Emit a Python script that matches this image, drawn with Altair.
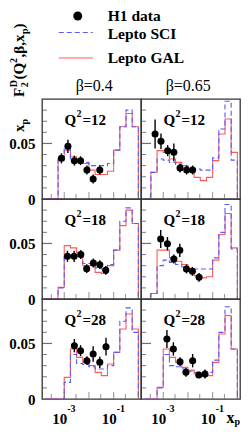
import altair as alt
import pandas as pd

FONT = "Liberation Serif"
RED = "#ff5a5a"
BLUE = "#5a5aff"
FRAME = "#333333"

# ---------------- data ----------------
legend_items = ["H1 data", "Lepto SCI", "Lepto GAL"]
beta_labels = ["β=0.4", "β=0.65"]
q2_values = ["12", "18", "28"]

# histogram bin edges, log10(x_p)
edge_exp = [-3.75, -3.5, -3.25, -3.0, -2.75, -2.5, -2.25, -2.0, -1.75,
            -1.5, -1.25, -1.0, -0.75, -0.5, -0.25, 0.0]

x_tick_major = [1e-3, 1e-2, 1e-1, 1.0]
x_tick_minor = [3e-4, 3e-3, 3e-2, 3e-1]
y_tick_minor = [0.01, 0.02, 0.03, 0.04, 0.06, 0.07, 0.08]
y_tick_major = [0.05]
x_label_values = [1e-3, 1e-1]
x_label_exps = ["-3", "-1"]

# Lepto GAL (red) per bin, keys (row, col)
gal = {
    (0, 0): [0, 0, 0.0364, 0.044, 0.038, 0.036, 0.032, 0.026, 0.022, 0.022, 0.025, 0.044, 0.065, 0.077, 0.065],
    (0, 1): [0, 0.024, 0.0435, 0.042, 0.036, 0.033, 0.030, 0.0255, 0.0195, 0.0165, 0.0195, 0.0345, 0.0585, 0.072, 0.042],
    (1, 0): [0, 0, 0.0105, 0.048, 0.046, 0.042, 0.030, 0.030, 0.024, 0.023, 0.030, 0.044, 0.066, 0.080, 0.068],
    (1, 1): [0, 0.005, 0.044, 0.044, 0.037, 0.034, 0.031, 0.027, 0.021, 0.019, 0.020, 0.035, 0.058, 0.077, 0.046],
    (2, 0): [0, 0, 0, 0.0195, 0.045, 0.0375, 0.033, 0.030, 0.024, 0.021, 0.0315, 0.042, 0.063, 0.0765, 0.063],
    (2, 1): [0, 0, 0.0105, 0.045, 0.0375, 0.033, 0.0285, 0.026, 0.0225, 0.021, 0.021, 0.033, 0.0585, 0.075, 0.045],
}
# Lepto SCI (blue dashed)
sci = {
    (0, 0): [0, 0, 0.035, 0.045, 0.036, 0.035, 0.033, 0.030, 0.030, 0.030, 0.032, 0.044, 0.065, 0.080, 0.065],
    (0, 1): [0, 0.024, 0.036, 0.035, 0.033, 0.031, 0.029, 0.027, 0.027, 0.026, 0.026, 0.037, 0.063, 0.088, 0.035],
    (1, 0): [0, 0, 0.010, 0.040, 0.040, 0.040, 0.032, 0.032, 0.028, 0.027, 0.031, 0.044, 0.070, 0.082, 0.068],
    (1, 1): [0, 0.005, 0.030, 0.035, 0.033, 0.031, 0.029, 0.027, 0.027, 0.027, 0.027, 0.037, 0.060, 0.085, 0.045],
    (2, 0): [0, 0, 0, 0.015, 0.040, 0.032, 0.031, 0.029, 0.027, 0.027, 0.030, 0.042, 0.070, 0.082, 0.060],
    (2, 1): [0, 0, 0.010, 0.040, 0.030, 0.029, 0.027, 0.025, 0.024, 0.024, 0.024, 0.035, 0.060, 0.083, 0.045],
}
# H1 data
h1_x = {
    (0, 0): [7.7e-4, 1.41e-3, 2.57e-3, 4.57e-3, 8.3e-3, 1.48e-2, 2.75e-2],
    (0, 1): [4.68e-4, 8.1e-4, 1.51e-3, 2.69e-3, 4.79e-3, 8.9e-3, 1.55e-2],
    (1, 0): [1.35e-3, 2.51e-3, 4.68e-3, 8.1e-3, 1.51e-2, 2.75e-2, 4.79e-2],
    (1, 1): [7.9e-4, 1.48e-3, 2.69e-3, 4.68e-3, 8.7e-3, 1.51e-2, 2.82e-2],
    (2, 0): [2.57e-3, 4.57e-3, 8.3e-3, 1.48e-2, 2.75e-2, 4.9e-2],
    (2, 1): [1.41e-3, 2.57e-3, 4.79e-3, 8.3e-3, 1.55e-2, 2.75e-2, 4.9e-2],
}
h1_y = {
    (0, 0): [0.0366, 0.0474, 0.0345, 0.0345, 0.0261, 0.018, 0.0261],
    (0, 1): [0.0585, 0.0519, 0.0435, 0.042, 0.0279, 0.0261, 0.0261],
    (1, 0): [0.0384, 0.0384, 0.040, 0.0273, 0.0324, 0.0309, 0.0258],
    (1, 1): [0.054, 0.0498, 0.036, 0.0438, 0.027, 0.0249, 0.0195],
    (2, 0): [0.048, 0.0435, 0.0345, 0.0405, 0.033, 0.0471],
    (2, 1): [0.054, 0.045, 0.0336, 0.024, 0.0345, 0.0216, 0.0225],
}
h1_err = {
    (0, 0): [0.0045, 0.006, 0.0045, 0.004, 0.004, 0.004, 0.004],
    (0, 1): [0.013, 0.007, 0.005, 0.008, 0.004, 0.004, 0.004],
    (1, 0): [0.005, 0.005, 0.004, 0.004, 0.004, 0.004, 0.004],
    (1, 1): [0.008, 0.006, 0.004, 0.006, 0.004, 0.004, 0.004],
    (2, 0): [0.006, 0.005, 0.004, 0.007, 0.005, 0.008],
    (2, 1): [0.008, 0.006, 0.004, 0.004, 0.006, 0.003, 0.004],
}

# ---------------- layout ----------------
W, H = 99, 100
HDR = 90  # height of the header zone above the top panels
XDOM = [10 ** -3.90, 10 ** 0.107]
YDOM = [0, 0.09]
TXT = dict(font=FONT, fontWeight="bold", align="left", baseline="alphabetic", color="black")


def hist_df(vals):
    return pd.DataFrame({"x": [10 ** e for e in edge_exp], "v": list(vals) + [0.0]})


def header_layers():
    """Legend, beta labels and rotated y title, drawn above the top-left panel."""
    hdr = []
    leg = pd.DataFrame({"label": legend_items})
    hdr.append(alt.Chart(leg.iloc[[0]]).mark_circle(size=80, color="black", opacity=1).encode(
        x=alt.value(35.75), y=alt.value(7 - HDR)))
    hdr.append(alt.Chart(leg.iloc[[1]]).mark_rule(color=BLUE, strokeWidth=1.2, strokeDash=[5, 3]).encode(
        x=alt.value(16.75), x2=alt.value(50.75), y=alt.value(23.5 - HDR)))
    hdr.append(alt.Chart(leg.iloc[[2]]).mark_rule(color=RED, strokeWidth=1.2).encode(
        x=alt.value(16.75), x2=alt.value(50.75), y=alt.value(49 - HDR)))
    for i, yb in enumerate([12, 29.5, 53.5]):
        hdr.append(alt.Chart(leg.iloc[[i]]).mark_text(fontSize=15.5, **TXT).encode(
            x=alt.value(65.75), y=alt.value(yb - HDR), text="label:N"))

    bdf = pd.DataFrame({"b": beta_labels})
    for i, xc in enumerate([52.25, 146.25]):
        hdr.append(alt.Chart(bdf.iloc[[i]]).mark_text(fontSize=16, font=FONT, align="center",
                                                    baseline="alphabetic", color="black").encode(
            x=alt.value(xc), y=alt.value(82 - HDR), text="b:N"))

    # rotated y-axis title: x_p F_2^D(Q^2,beta,x_p)
    MAIN, SMALL = 15, 10
    EM = {"x": 0.5, "p": 0.556, "F": 0.611, "D": 0.722, "2": 0.5, "(": 0.333, "Q": 0.778,
          ",": 0.25, "β": 0.56, ")": 0.333}

    def wid(s, size):
        return sum(EM.get(ch, 0.5) for ch in s) * size

    SUB, SUP = 4, -6.5
    pieces = []  # (text, size, dx, dy)
    pos = 0.0
    pieces.append(("x", MAIN, pos, 0)); pos += wid("x", MAIN)
    pieces.append(("p", SMALL, pos, SUB)); pos += wid("p", SMALL)
    pos += 22
    pieces.append(("F", MAIN, pos, 0)); pos += wid("F", MAIN) + 0.5
    pieces.append(("2", SMALL, pos, SUB)); pieces.append(("D", SMALL, pos, SUP)); pos += wid("D", SMALL) + 0.5
    pieces.append(("(Q", MAIN, pos, 0)); pos += wid("(Q", MAIN)
    pieces.append(("2", SMALL, pos, SUP)); pos += wid("2", SMALL) + 0.5
    pieces.append((",β,x", MAIN, pos, 0)); pos += wid(",β,x", MAIN)
    pieces.append(("p", SMALL, pos, SUB)); pos += wid("p", SMALL)
    pieces.append((")", MAIN, pos, 0))

    tdf1 = pd.DataFrame({"k": [0]})
    for txt, size, dx, dy in pieces:
        hdr.append(alt.Chart(tdf1).mark_text(text=txt, fontSize=size, angle=270, dx=dx, dy=dy, **TXT).encode(
            x=alt.value(-18.5), y=alt.value(33)))
    return hdr


def panel(r, c):
    key = (r, c)
    xs = alt.Scale(type="log", domain=XDOM, nice=False)
    ys = alt.Scale(domain=YDOM, nice=False, zero=False)
    if c == 0:
        yaxis = alt.Axis(values=[0, 0.05], labelExpr="datum.value == 0 ? '0' : '0.05'",
                         ticks=False, domain=False, grid=False, title=None,
                         labelFont=FONT, labelFontSize=15, labelFontWeight="bold",
                         labelColor="black", labelPadding=7, labelBaseline="middle")
    else:
        yaxis = None

    def X(f):
        return alt.X(f"{f}:Q", scale=xs, axis=None)

    def Y(f):
        return alt.Y(f"{f}:Q", scale=ys, axis=yaxis)

    layers = []
    layers.append(alt.Chart(hist_df(gal[key])).mark_line(
        interpolate="step-after", color=RED, strokeWidth=1.1, clip=True).encode(x=X("x"), y=Y("v")))
    layers.append(alt.Chart(hist_df(sci[key])).mark_line(
        interpolate="step-after", color=BLUE, strokeWidth=1.1, strokeDash=[5, 3], clip=True).encode(x=X("x"), y=Y("v")))

    pts = pd.DataFrame({"x": h1_x[key], "y": h1_y[key], "e": h1_err[key]})
    pts["lo"] = pts["y"] - pts["e"]
    pts["hi"] = pts["y"] + pts["e"]
    layers.append(alt.Chart(pts).mark_rule(color="black", strokeWidth=1.4).encode(
        x=X("x"), y=Y("lo"), y2="hi"))
    layers.append(alt.Chart(pts).mark_circle(size=50, color="black", opacity=1).encode(
        x=X("x"), y=Y("y")))

    # inward ticks
    layers.append(alt.Chart(pd.DataFrame({"v": y_tick_minor})).mark_tick(
        orient="horizontal", size=5, thickness=1, color="#444").encode(y=Y("v"), x=alt.value(2.5)))
    layers.append(alt.Chart(pd.DataFrame({"v": y_tick_major})).mark_tick(
        orient="horizontal", size=10, thickness=1.2, color="#333").encode(y=Y("v"), x=alt.value(5)))
    layers.append(alt.Chart(pd.DataFrame({"t": x_tick_major})).mark_tick(
        orient="vertical", size=7, thickness=1, color="#666").encode(x=X("t"), y=alt.value(H - 3.5)))
    layers.append(alt.Chart(pd.DataFrame({"t": x_tick_minor})).mark_tick(
        orient="vertical", size=5, thickness=1, color="#666").encode(x=X("t"), y=alt.value(H - 2.5)))

    # Q^2 label
    qdf = pd.DataFrame({"q": ["=" + q2_values[r]]})
    layers.append(alt.Chart(qdf).mark_text(text="Q", fontSize=15, **TXT).encode(
        x=alt.value(22.5), y=alt.value(26)))
    layers.append(alt.Chart(qdf).mark_text(text="2", fontSize=10, **TXT).encode(
        x=alt.value(34.5), y=alt.value(17.5)))
    layers.append(alt.Chart(qdf).mark_text(fontSize=15, **TXT).encode(
        x=alt.value(40.5), y=alt.value(26), text="q:N"))

    if r == 2:
        ldf = pd.DataFrame({"t": x_label_values, "e": x_label_exps})
        layers.append(alt.Chart(ldf).mark_text(text="10", fontSize=15, font=FONT, fontWeight="bold",
                                               align="center", baseline="alphabetic", dx=-4.5, color="black").encode(
            x=X("t"), y=alt.value(H + 24.5)))
        layers.append(alt.Chart(ldf).mark_text(fontSize=10, font=FONT, fontWeight="bold",
                                               align="left", baseline="alphabetic", dx=3, color="black").encode(
            x=X("t"), y=alt.value(H + 13), text="e:N"))
        if c == 1:
            tdf = pd.DataFrame({"t": ["x"]})
            layers.append(alt.Chart(tdf).mark_text(text="x", fontSize=16, **TXT).encode(
                x=alt.value(85.5), y=alt.value(H + 24)))
            layers.append(alt.Chart(tdf).mark_text(text="p", fontSize=10, **TXT).encode(
                x=alt.value(93.5), y=alt.value(H + 26)))

    if r == 0 and c == 0:
        layers.extend(header_layers())

    return alt.layer(*layers).properties(
        width=W, height=H, view=alt.ViewBackground(stroke=FRAME, strokeWidth=1.3))


panels = [panel(r, c) for r in range(3) for c in range(2)]
chart = alt.concat(*panels, columns=2, spacing=0, bounds="flush", padding=0).configure_view(
    strokeWidth=0).configure(font=FONT, background="white")

chart.save("out.html", embed_options={"renderer": "svg", "actions": False})
